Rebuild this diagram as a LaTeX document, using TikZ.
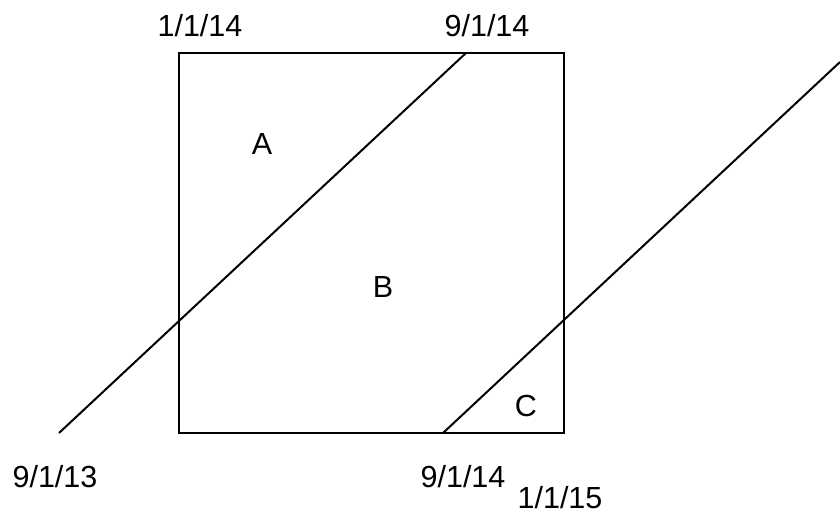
\documentclass[tikz,border=0pt]{standalone}
\usepackage{fontspec}
\setmainfont{Liberation Sans}
\usetikzlibrary{positioning}

\begin{document}
\begin{tikzpicture}[x=1pt,y=-1pt,line width=2pt,
    every node/.style={anchor=base,inner sep=0pt,font=\fontsize{30.5}{36}\selectfont}]
    \useasboundingbox (0,0) rectangle (840,514);
    % square and the two cut lines
    \coordinate (nw) at (179,53);
    \coordinate (se) at (564,433);
    \coordinate (startA) at (59,433);
    \coordinate (endA) at (466,53);
    \coordinate (startC) at (443,433);
    \coordinate (endC) at (840,62);
    \draw (nw) rectangle (se);
    \draw (startA) -- (endA);
    \draw (startC) -- (endC);
    % dates
    \node (d1) at (200,36) {1/1/14};
    \node (d2) at (487,36) {9/1/14};
    \node (d3) at (55,487) {9/1/13};
    \node (d4) at (463,487) {9/1/14};
    \node (d5) at (560,508) {1/1/15};
    % regions
    \node (A) at (262,154) {A};
    \node (B) at (383,297) {B};
    \node (C) at (526,416) {C};
\end{tikzpicture}
\end{document}
